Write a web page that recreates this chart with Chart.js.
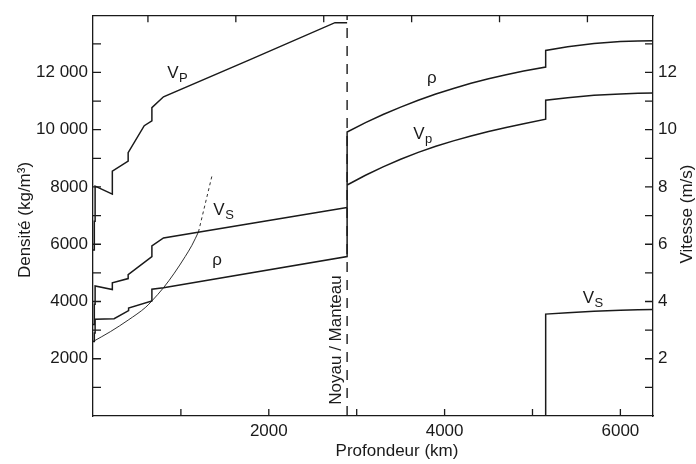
<!DOCTYPE html>
<html>
<head>
<meta charset="utf-8">
<script src="https://cdn.jsdelivr.net/npm/chart.js@4.4.1/dist/chart.umd.min.js"></script>
<style>
  html, body { margin: 0; padding: 0; background: #fff; }
</style>
</head>
<body>
<canvas id="myChart" width="696" height="464"></canvas>
<script>
// densite (kg/m3) en fonction de la profondeur (km)
const rhoDepth = [0, 15, 15, 24, 24, 240, 405, 405, 670, 670, 802, 2891,
  2891, 3100, 3300, 3500, 3700, 3900, 4100, 4300, 4500, 4700, 4900, 5150,
  5150, 5400, 5700, 6000, 6200, 6371];
const rhoVal = [2600, 2600, 2900, 2900, 3380, 3400, 3680, 3770, 4020, 4430, 4480, 5570,
  9920, 10250, 10530, 10790, 11030, 11250, 11440, 11620, 11780, 11920, 12050, 12190,
  12770, 12900, 13010, 13080, 13100, 13110];

// Vp (km/s) manteau et noyau
const vpMantleDepth = [0, 15, 15, 24, 24, 220, 220, 400, 400, 583, 670, 670, 802, 1787, 2753, 2891];
const vpMantle      = [5.8, 5.8, 6.8, 6.8, 8.03, 7.75, 8.55, 8.9, 9.2, 10.14, 10.31, 10.77, 11.15, 12.45, 13.74, 13.74];
const vpCoreDepth = [2891, 3100, 3300, 3500, 3700, 3900, 4100, 4300, 4500, 4700, 4900, 5150,
  5150, 5400, 5700, 6000, 6200, 6371];
const vpCore = [8.07, 8.41, 8.70, 8.97, 9.21, 9.42, 9.61, 9.78, 9.94, 10.08, 10.21, 10.37,
  11.03, 11.12, 11.2, 11.25, 11.27, 11.28];

// Vs (km/s) manteau et graine
const vsMantleDepth = [0, 15, 15, 24, 24, 220, 220, 400, 400, 670, 670, 802, 2891];
const vsMantle      = [3.2, 3.2, 3.9, 3.9, 4.54, 4.42, 4.65, 4.8, 4.94, 5.57, 5.94, 6.22, 7.28];
const vsCoreDepth = [5150, 5150, 5400, 5700, 6000, 6200, 6371];
const vsCore      = [0, 3.56, 3.61, 3.66, 3.69, 3.71, 3.72];

// courbe fine (axe densite), trait plein puis pointille
const thinDepth = [0, 200, 400, 600, 670, 802, 925, 1049, 1125, 1200];
const thinVal   = [2600, 2950, 3350, 3800, 4020, 4480, 4990, 5570, 5960, 6430];
const dotDepth = [1200, 1352];
const dotVal   = [6430, 8370];

// limite noyau / manteau
const cmbDepth = 2891;

// graduations
const xTicks = [1000, 2000, 3000, 4000, 5000, 6000];
const topTicks = [625, 1625, 2625, 3625, 4625, 5625];
const rhoTicks = [1000, 2000, 3000, 4000, 5000, 6000, 7000, 8000, 9000, 10000, 11000, 12000, 13000];
const velTicks = [1, 2, 3, 4, 5, 6, 7, 8, 9, 10, 11, 12, 13];

const pts = (xs, ys) => xs.map((x, i) => ({ x: x, y: ys[i] }));
const ink = '#1a1a1a';
const font = { family: 'Liberation Sans, Arial, sans-serif', size: 17 };

function line(data, axis, extra) {
  return Object.assign({
    data: data, yAxisID: axis, showLine: true, pointRadius: 0,
    borderColor: ink, borderWidth: 1.5, tension: 0, fill: false
  }, extra || {});
}

const fmt = v => v >= 10000 ? String(v).replace(/\B(?=(\d{3})+(?!\d))/g, ' ') : String(v);

const labels = [
  { t: 'V', sub: 'P', x: 844, y: 11810, axis: 'y' },
  { t: 'V', sub: 'S', x: 1369, y: 7010, axis: 'y' },
  { t: 'ρ', x: 1358, y: 5260, axis: 'y' },
  { t: 'ρ', x: 3799, y: 11640, axis: 'y' },
  { t: 'V', sub: 'p', x: 3642, y: 9690, axis: 'y' },
  { t: 'V', sub: 'S', x: 5572, y: 3960, axis: 'y' }
];

const decor = {
  id: 'decor',
  afterDraw(chart) {
    const { ctx, chartArea: a, scales: s } = chart;
    ctx.save();
    ctx.strokeStyle = ink;
    ctx.lineWidth = 1.3;
    ctx.beginPath();
    const L = 8;
    s.y.ticks.forEach(t => { const p = s.y.getPixelForValue(t.value); ctx.moveTo(a.left, p); ctx.lineTo(a.left + L, p); });
    s.y1.ticks.forEach(t => { const p = s.y1.getPixelForValue(t.value); ctx.moveTo(a.right, p); ctx.lineTo(a.right - L, p); });
    s.x.ticks.forEach(t => { const p = s.x.getPixelForValue(t.value); ctx.moveTo(p, a.bottom); ctx.lineTo(p, a.bottom - 7); });
    s.x2.ticks.forEach(t => { const p = s.x2.getPixelForValue(t.value); ctx.moveTo(p, a.top); ctx.lineTo(p, a.top + 7); });
    ctx.stroke();

    ctx.fillStyle = ink;
    ctx.textBaseline = 'alphabetic';
    ctx.textAlign = 'left';
    labels.forEach(l => {
      const px = s.x.getPixelForValue(l.x);
      const py = s[l.axis].getPixelForValue(l.y);
      ctx.font = '17px Liberation Sans, Arial, sans-serif';
      ctx.fillText(l.t, px, py);
      if (l.sub) {
        const w = ctx.measureText(l.t).width;
        ctx.font = '13px Liberation Sans, Arial, sans-serif';
        ctx.fillText(l.sub, px + w + 0.5, py + 4);
      }
    });

    ctx.font = '17px Liberation Sans, Arial, sans-serif';
    ctx.textAlign = 'center';
    ctx.textBaseline = 'middle';
    ctx.fillText('Profondeur (km)', 397, 451);

    const vtext = (txt, cx, cy) => {
      ctx.save();
      ctx.translate(cx, cy);
      ctx.rotate(-Math.PI / 2);
      ctx.fillText(txt, 0, 0);
      ctx.restore();
    };
    vtext('Densité (kg/m³)', 25, 220);
    vtext('Vitesse (m/s)', 687, 214);
    vtext('Noyau / Manteau', s.x.getPixelForValue(cmbDepth) - 11, 340);
    ctx.restore();
  }
};

const ctx = document.getElementById('myChart');

new Chart(ctx, {
  type: 'scatter',
  data: {
    datasets: [
      line(pts([cmbDepth, cmbDepth], [0, 14000]), 'y', { borderWidth: 1.4, borderDash: [10, 8] }),
      line(pts(rhoDepth, rhoVal), 'y'),
      line(pts(thinDepth, thinVal), 'y', { borderWidth: 0.9, cubicInterpolationMode: 'monotone' }),
      line(pts(dotDepth, dotVal), 'y', { borderWidth: 0.9, borderDash: [3, 3] }),
      line(pts(vpMantleDepth, vpMantle), 'y1'),
      line(pts(vpCoreDepth, vpCore), 'y1'),
      line(pts(vsMantleDepth, vsMantle), 'y1'),
      line(pts(vsCoreDepth, vsCore), 'y1')
    ]
  },
  options: {
    responsive: false,
    animation: false,
    devicePixelRatio: 1,
    layout: { padding: 0 },
    plugins: { legend: { display: false }, tooltip: { enabled: false } },
    scales: {
      x: {
        type: 'linear', position: 'bottom', min: 0, max: 6371,
        afterBuildTicks: sc => { sc.ticks = xTicks.map(v => ({ value: v })); },
        afterFit: sc => { sc.height = 48; },
        ticks: { callback: v => v % 2000 === 0 ? String(v) : '', font: font, color: ink, padding: 5, maxRotation: 0, autoSkip: false },
        grid: { drawOnChartArea: false, drawTicks: false },
        border: { display: true, color: ink, width: 1.3 }
      },
      x2: {
        type: 'linear', position: 'top', min: 0, max: 6371,
        afterBuildTicks: sc => { sc.ticks = topTicks.map(v => ({ value: v })); },
        afterFit: sc => { sc.height = 9; },
        ticks: { display: false },
        grid: { drawOnChartArea: false, drawTicks: false },
        border: { display: true, color: ink, width: 1.3 }
      },
      y: {
        type: 'linear', position: 'left', min: 0, max: 14000,
        afterBuildTicks: sc => { sc.ticks = rhoTicks.map(v => ({ value: v })); },
        afterFit: sc => { sc.width = 93; },
        ticks: { callback: v => v % 2000 === 0 ? fmt(v) : '', font: font, color: ink, padding: 5, autoSkip: false },
        grid: { drawOnChartArea: false, drawTicks: false },
        border: { display: true, color: ink, width: 1.3 }
      },
      y1: {
        type: 'linear', position: 'right', min: 0, max: 14,
        afterBuildTicks: sc => { sc.ticks = velTicks.map(v => ({ value: v })); },
        afterFit: sc => { sc.width = 43; },
        ticks: { callback: v => v % 2 === 0 ? String(v) : '', font: font, color: ink, padding: 5, autoSkip: false },
        grid: { drawOnChartArea: false, drawTicks: false },
        border: { display: true, color: ink, width: 1.3 }
      }
    }
  },
  plugins: [decor]
});
</script>
</body>
</html>
